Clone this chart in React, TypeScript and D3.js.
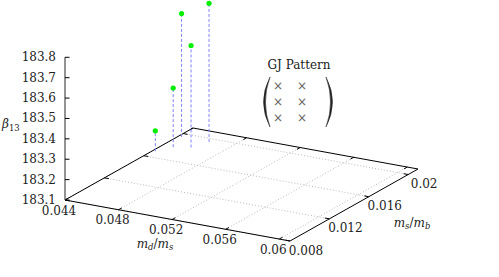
import * as d3 from "d3";

// axis ranges
const xRange = [0.044, 0.0608];
const yRange = [0.008, 0.021];
const zRange = [183.1, 183.8];

const xTicks = [0.044, 0.048, 0.052, 0.056, 0.06];
const yTicks = [0.008, 0.012, 0.016, 0.02];
const zTicks = [183.1, 183.2, 183.3, 183.4, 183.5, 183.6, 183.7, 183.8];

// data points (md/ms, ms/mb, beta13)
const mdms = [0.0442, 0.0448, 0.04425, 0.04584, 0.0463];
const msmb = [0.0169, 0.0179, 0.0195, 0.0183, 0.0195];
const beta = [183.2, 183.39, 183.705, 183.6, 183.78];

const width = 499;
const height = 277;

// screen vectors for the projection
const origin = [65, 200];
const xVec = [225, 41];
const yVec = [128, -72];
const zVec = [0, -142.7];

const sx = d3.scaleLinear().domain(xRange).range([0, 1]);
const sy = d3.scaleLinear().domain(yRange).range([0, 1]);
const sz = d3.scaleLinear().domain(zRange).range([0, 1]);

function proj(x: number, y: number, z: number): [number, number] {
  const a = sx(x), b = sy(y), c = sz(z);
  return [
    origin[0] + a * xVec[0] + b * yVec[0] + c * zVec[0],
    origin[1] + a * xVec[1] + b * yVec[1] + c * zVec[1],
  ];
}

const font = "'DejaVu Serif', 'Liberation Serif', serif";

export default function App() {
  const [x0, x1] = xRange;
  const [y0, y1] = yRange;
  const zb = zRange[0];
  const line = d3.line();

  const border = line([
    proj(x0, y0, zb), proj(x1, y0, zb), proj(x1, y1, zb), proj(x0, y1, zb), proj(x0, y0, zb),
  ]);

  const xtl = (y1 - y0) * 0.025;
  const ytl = (x1 - x0) * 0.02;

  return (
    <svg width={width} height={height} style={{ position: "absolute", left: 0, top: 0 }}>
      <rect width={width} height={height} fill="white" />
      {/* grid */}
      <g stroke="#a8a8a8" strokeWidth={0.8} strokeDasharray="1,2" fill="none">
        {xTicks.map((t, i) => (
          <path key={"gx" + i} d={line([proj(t, y0, zb), proj(t, y1, zb)]) || ""} />
        ))}
        {yTicks.map((t, i) => (
          <path key={"gy" + i} d={line([proj(x0, t, zb), proj(x1, t, zb)]) || ""} />
        ))}
      </g>
      {/* base border */}
      <path d={border || ""} fill="none" stroke="#000" strokeWidth={1} />
      {/* ticks */}
      <g stroke="#000" strokeWidth={1}>
        {xTicks.map((t, i) => (
          <g key={"tx" + i}>
            <path d={line([proj(t, y0, zb), proj(t, y0 + xtl, zb)]) || ""} />
            <path d={line([proj(t, y1, zb), proj(t, y1 - xtl, zb)]) || ""} />
          </g>
        ))}
        {yTicks.map((t, i) => (
          <g key={"ty" + i}>
            <path d={line([proj(x1, t, zb), proj(x1 - ytl, t, zb)]) || ""} />
            <path d={line([proj(x0, t, zb), proj(x0 + ytl, t, zb)]) || ""} />
          </g>
        ))}
      </g>
      {/* z axis */}
      <path d={line([proj(x0, y0, zRange[0]), proj(x0, y0, zRange[1])]) || ""} stroke="#666" strokeWidth={1.4} />
      <g stroke="#000" strokeWidth={1}>
        {zTicks.map((t, i) => {
          const [px, py] = proj(x0, y0, t);
          return <line key={"tz" + i} x1={px} x2={px + 4.5} y1={py} y2={py} />;
        })}
      </g>
      {/* tick labels */}
      <g fontSize={12} fill="#222" fontFamily={font}>
        {xTicks.map((t, i) => {
          const [px, py] = proj(t, y0, zb);
          return (
            <text key={"lx" + i} x={px - 6} y={py + 14.5} textAnchor="middle">{String(t)}</text>
          );
        })}
        {yTicks.map((t, i) => {
          const [px, py] = proj(x1, t, zb);
          return (
            <text key={"ly" + i} x={px + 16} y={py + 13.5} textAnchor="middle">{String(t)}</text>
          );
        })}
        {zTicks.map((t, i) => {
          const [px, py] = proj(x0, y0, t);
          return (
            <text key={"lz" + i} x={px - 9} y={py + 4} textAnchor="end">{String(t)}</text>
          );
        })}
      </g>
      {/* axis titles */}
      <g fontSize={12} fill="#222" fontFamily={font}>
        <text x={155} y={248} textAnchor="middle">
          <tspan fontStyle="italic">m</tspan>
          <tspan fontStyle="italic" fontSize={8.5} dy={2}>d</tspan>
          <tspan dy={-2}>/</tspan>
          <tspan fontStyle="italic">m</tspan>
          <tspan fontStyle="italic" fontSize={8.5} dy={2}>s</tspan>
        </text>
        <text x={412} y={227} textAnchor="middle">
          <tspan fontStyle="italic">m</tspan>
          <tspan fontStyle="italic" fontSize={8.5} dy={2}>s</tspan>
          <tspan dy={-2}>/</tspan>
          <tspan fontStyle="italic">m</tspan>
          <tspan fontStyle="italic" fontSize={8.5} dy={2}>b</tspan>
        </text>
        <text x={2} y={128}>
          <tspan fontStyle="italic">β</tspan>
          <tspan fontSize={8.5} dy={3}>13</tspan>
        </text>
      </g>
      {/* impulses */}
      <g stroke="#8080ff" strokeWidth={1} strokeDasharray="3,2">
        {mdms.map((x, i) => {
          const [bx, by] = proj(x, msmb[i], zb);
          const [px, py] = proj(x, msmb[i], beta[i]);
          return <line key={"imp" + i} x1={bx} y1={by} x2={px} y2={py} />;
        })}
      </g>
      <g fill="#00ee00">
        {mdms.map((x, i) => {
          const [px, py] = proj(x, msmb[i], beta[i]);
          return <circle key={"pt" + i} cx={px} cy={py} r={2.6} />;
        })}
      </g>
      {/* pattern label */}
      <text x={299} y={69} textAnchor="middle" fontSize={12} fill="#222" fontFamily={font}>GJ Pattern</text>
      <path d="M270,77 Q257,102 270,127 Q261,102 270,77 Z" fill="#222" stroke="#222" strokeWidth={0.5} />
      <path d="M326,77 Q339,102 326,127 Q335,102 326,77 Z" fill="#222" stroke="#222" strokeWidth={0.5} />
      <g fontSize={12} fill="#666" textAnchor="middle" fontFamily={font}>
        {[86, 102, 118].map((ry) =>
          [278, 302].map((cx) => (
            <text key={`c${ry}-${cx}`} x={cx} y={ry + 4}>×</text>
          ))
        )}
      </g>
    </svg>
  );
}
